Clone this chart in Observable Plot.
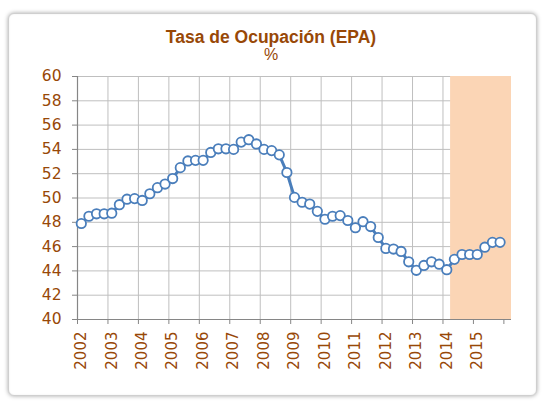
<!DOCTYPE html>
<html>
<head>
<meta charset="utf-8">
<script src="https://cdn.jsdelivr.net/npm/d3@7"></script>
<script src="https://cdn.jsdelivr.net/npm/@observablehq/plot@0.6"></script>
<style>
  html, body { margin: 0; padding: 0; background: #fff; }
  body { width: 542px; height: 401px; position: relative; overflow: hidden; }
  #frame { position: absolute; left: 8px; top: 13px; width: 527px; height: 381px;
           border: 1px solid #cfcfcf; border-radius: 6px;
           box-shadow: 0 0 4px rgba(0,0,0,0.35), inset 0 0 2px rgba(0,0,0,0.08); background: #fff; }
  #title { position: absolute; left: 0; top: 28px; width: 542px; text-align: center;
           font: bold 17.5px "Liberation Sans", Arial, sans-serif; color: #984807; line-height: 18px; }
  #subtitle { position: absolute; left: 0; top: 47px; width: 542px; text-align: center;
           font: 16px "Liberation Sans", Arial, sans-serif; color: #984807; line-height: 16px; }
  #chart { position: absolute; left: 0; top: 62px; }
</style>
</head>
<body>
<div id="frame"></div>
<div id="title">Tasa de Ocupación (EPA)</div>
<div id="subtitle">%</div>
<div id="chart"></div>
<script>
// ---- Data ----
const years = [2002, 2003, 2004, 2005, 2006, 2007, 2008, 2009, 2010, 2011, 2012, 2013, 2014, 2015];
const quarters = ["I", "II", "III", "IV"];
const extraCategory = "2016-I"; // empty category at the end of the axis
const tasa = [
  47.9, 48.5, 48.7, 48.7,   // 2002
  48.75, 49.45, 49.9, 49.95, // 2003
  49.8, 50.35, 50.85, 51.15, // 2004
  51.6, 52.5, 53.05, 53.1,   // 2005
  53.1, 53.75, 54.05, 54.05, // 2006
  54.0, 54.6, 54.8, 54.45,   // 2007
  54.0, 53.9, 53.55, 52.1,   // 2008
  50.05, 49.65, 49.5, 48.9,  // 2009
  48.25, 48.5, 48.55, 48.15, // 2010
  47.55, 48.05, 47.65, 46.75,// 2011
  45.85, 45.8, 45.6, 44.75,  // 2012
  44.05, 44.45, 44.75, 44.55,// 2013
  44.1, 44.95, 45.35, 45.35, // 2014
  45.35, 45.95, 46.35, 46.35 // 2015
];
const shadeFrom = "2014-II";   // shaded (forecast) period start
const yTicks = [40, 42, 44, 46, 48, 50, 52, 54, 56, 58, 60];

// ---- Derived ----
const categories = years.flatMap(y => quarters.map(q => `${y}-${q}`)).concat([extraCategory]);
const points = tasa.map((v, i) => ({cat: categories[i], i, v}));
const yearStarts = years.map(y => categories.indexOf(`${y}-I`)).concat([categories.indexOf(extraCategory)]);
const yearLabels = years.map(y => ({y, i: categories.indexOf(`${y}-I`)}));
const shade = [{from: categories.indexOf(shadeFrom), to: categories.length}];
const yMin = yTicks[0], yMax = yTicks[yTicks.length - 1];

const brown = "#984807";
const blue = "#4a7ebb";

const chart = Plot.plot({
  width: 542,
  height: 317,
  marginLeft: 77,
  marginRight: 31,
  marginTop: 14,
  marginBottom: 60,
  style: {fontFamily: "'DejaVu Sans', Verdana, sans-serif", background: "transparent", overflow: "visible"},
  x: {type: "linear", domain: [0, categories.length], axis: null},
  y: {domain: [yMin, yMax], axis: null},
  marks: [
    Plot.gridY(yTicks, {stroke: "#bfbfbf", strokeOpacity: 1, strokeWidth: 1}),
    Plot.gridX(yearStarts.slice(1), {stroke: "#bfbfbf", strokeOpacity: 1, strokeWidth: 1}),
    Plot.rect(shade, {x1: "from", x2: "to", y1: () => yMin, y2: () => yMax, fill: "#fbd5b5"}),
    Plot.axisY(yTicks, {label: null, tickSize: 5, tickPadding: 11, stroke: "#868686", fill: brown, fontSize: 15.5, tickFormat: d => String(d)}),
    Plot.ruleX([0], {stroke: "#868686", strokeWidth: 1.2}),
    Plot.ruleY([yMin], {stroke: "#868686", strokeWidth: 1.2}),
    Plot.axisX(yearStarts, {label: null, tickSize: 5, stroke: "#868686", tickFormat: () => ""}),
    Plot.text(yearLabels, {x: d => d.i + 0.5, text: d => String(d.y), frameAnchor: "bottom", dy: 12,
      rotate: -90, textAnchor: "end", lineAnchor: "middle", fill: brown, fontSize: 15}),
    Plot.line(points, {x: d => d.i + 0.5, y: "v", stroke: blue, strokeWidth: 3}),
    Plot.dot(points, {x: d => d.i + 0.5, y: "v", r: 4.7, fill: "white", stroke: blue, strokeWidth: 1.8})
  ]
});
document.getElementById("chart").appendChild(chart);
</script>
</body>
</html>
